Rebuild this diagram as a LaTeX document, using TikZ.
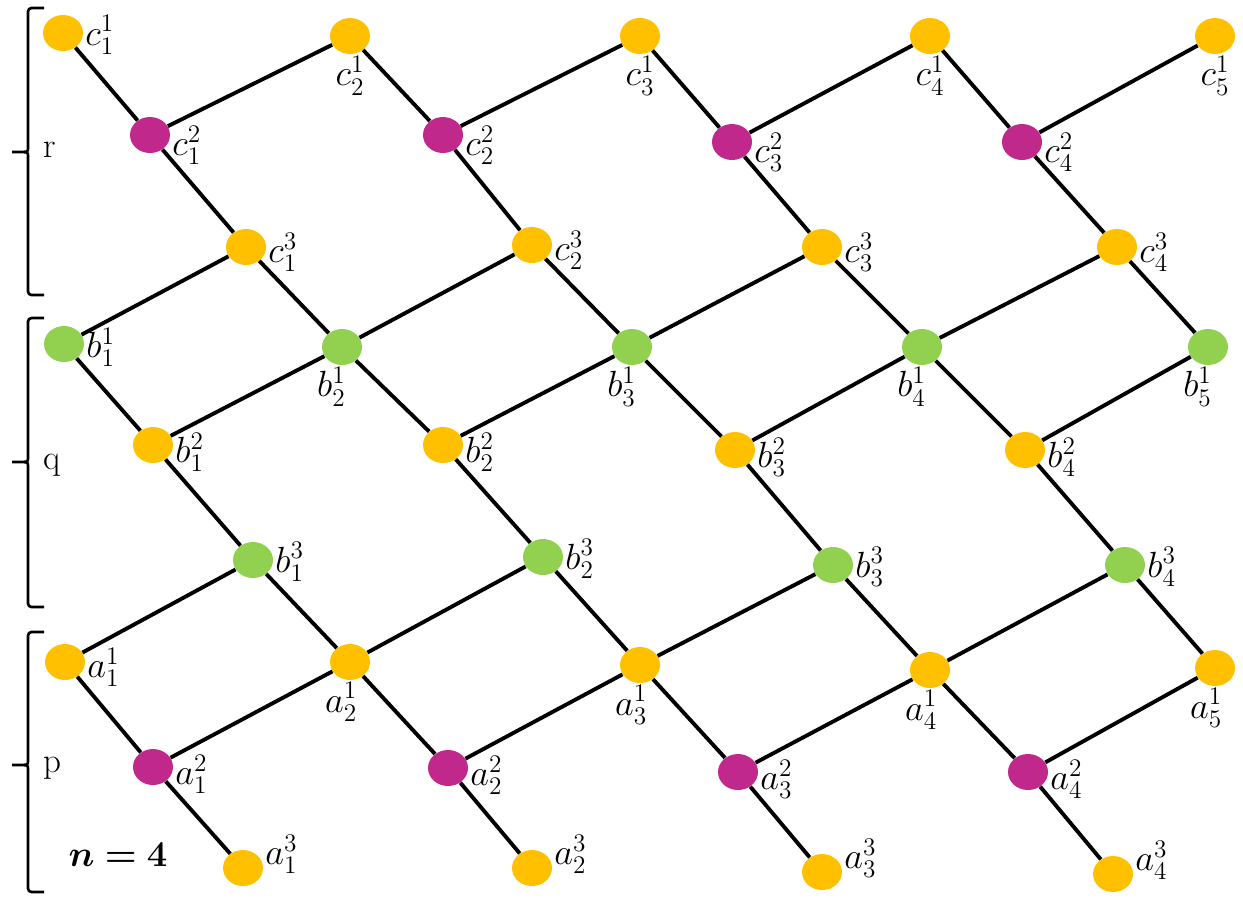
\documentclass[tikz,border=0pt]{standalone}
\usepackage{bm}
\usetikzlibrary{shapes.geometric, positioning}
\definecolor{ouro}{RGB}{255,192,0}
\definecolor{mag}{RGB}{192,40,140}
\definecolor{verde}{RGB}{146,208,80}
\tikzset{
  pt/.style = {ellipse, minimum width=0.8cm, minimum height=0.72cm,
    inner sep=0pt},
  yel/.style = {pt, fill=ouro},
  pur/.style = {pt, fill=mag},
  grn/.style = {pt, fill=verde},
  lab/.style = {font=\fontsize{20.5}{24}\selectfont, inner sep=1pt},
  ar/.style = {draw=black, line width=2.2pt},
  chv/.style = {draw=black, line width=1.5pt, rounded corners=2pt},
  grp/.style = {font=\fontsize{20}{24}\selectfont}
}
\newcommand{\chave}[3]{%
  \draw [chv] (44,#1) -- (28,#1) -- (28,#2-7) .. controls (28,#2) .. (10,#2)
    .. controls (28,#2) .. (28,#2+7) -- (28,#3) -- (44,#3);}

\begin{document}
\begin{tikzpicture}[x=0.02cm, y=-0.02cm]
  \useasboundingbox (0,0) rectangle (1243,897);
  % c rows
  \node [yel, label={[lab, yshift=-1pt]right:$c_{1}^{1}$}] (c11) at (63,33) {};
  \foreach \x/\y [count=\i from 2] in {350/36, 640/36, 930/36, 1215/36}
    \node [yel, label={[lab]below:$c_{\i}^{1}$}] (c1\i) at (\x,\y) {};
  \foreach \x/\y [count=\i] in {150/135, 443/135, 732/142, 1022/142}
    \node [pur, label={[lab, yshift=-6pt]right:$c_{\i}^{2}$}] (c2\i) at (\x,\y) {};
  \foreach \x/\y [count=\i] in {246/247, 532/245, 822/247, 1117/247}
    \node [yel, label={[lab, yshift=-3pt]right:$c_{\i}^{3}$}] (c3\i) at (\x,\y) {};
  % b rows
  \node [grn, label={[lab, yshift=-2pt]right:$b_{1}^{1}$}] (b11) at (64,344) {};
  \foreach \x/\y [count=\i from 2] in {342/347, 632/347, 922/347, 1208/347}
    \node [grn, label={[lab, xshift=-6pt]below:$b_{\i}^{1}$}] (b1\i) at (\x,\y) {};
  \foreach \x/\y [count=\i] in {153/445, 443/445, 735/450, 1025/450}
    \node [yel, label={[lab, yshift=-4pt]right:$b_{\i}^{2}$}] (b2\i) at (\x,\y) {};
  \foreach \x/\y [count=\i] in {253/560, 543/557, 833/565, 1125/565}
    \node [grn, label={[lab, yshift=-1pt]right:$b_{\i}^{3}$}] (b3\i) at (\x,\y) {};
  % a rows
  \node [yel, label={[lab, yshift=-3pt]right:$a_{1}^{1}$}] (a11) at (65,662) {};
  \foreach \x/\y [count=\i from 2] in {350/662, 640/665, 930/670, 1215/668}
    \node [yel, label={[lab, xshift=-5pt]below:$a_{\i}^{1}$}] (a1\i) at (\x,\y) {};
  \foreach \x/\y [count=\i] in {153/767, 448/768, 738/772, 1028/772}
    \node [pur, label={[lab, yshift=-4pt]right:$a_{\i}^{2}$}] (a2\i) at (\x,\y) {};
  \foreach \x/\y [count=\i] in {243/868, 532/868, 822/872, 1113/874}
    \node [yel, label={[lab, yshift=8pt]right:$a_{\i}^{3}$}] (a3\i) at (\x,\y) {};
  % edges
  \foreach \i [evaluate=\i as \j using int(\i+1)] in {1,...,4} {
    \draw [ar] (c1\i) -- (c2\i) -- (c3\i) -- (b1\j);
    \draw [ar] (b1\i) -- (b2\i) -- (b3\i) -- (a1\j);
    \draw [ar] (a1\i) -- (a2\i) -- (a3\i);
    \draw [ar] (c2\i) -- (c1\j);
    \draw [ar] (b1\i) -- (c3\i);
    \draw [ar] (b2\i) -- (b1\j);
    \draw [ar] (a1\i) -- (b3\i);
    \draw [ar] (a2\i) -- (a1\j);
  }
  % groups
  \chave{8}{152}{295}
  \chave{318}{462}{607}
  \chave{632}{765}{892}
  \node [grp] (r) at (50,150) {r};
  \node [grp] (q) at (52,465) {q};
  \node [grp] (p) at (52,768) {p};
  \node [grp] (n) at (118,855) {$\bm{n=4}$};
\end{tikzpicture}
\end{document}
